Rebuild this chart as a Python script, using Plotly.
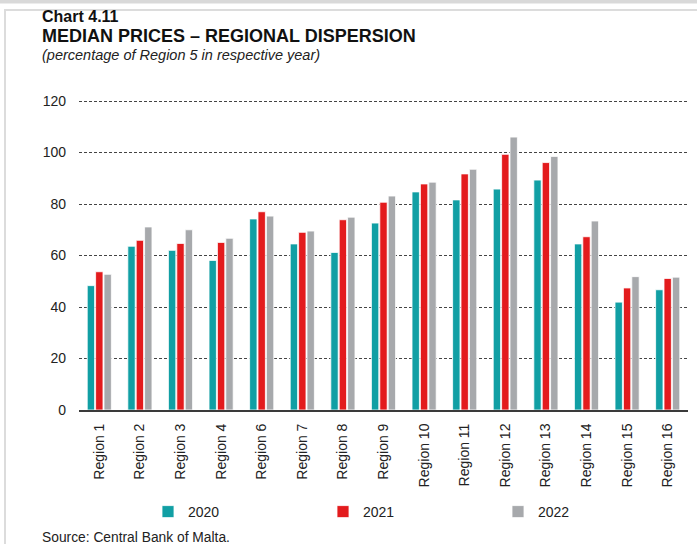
import plotly.graph_objects as go

regions = ["Region 1", "Region 2", "Region 3", "Region 4", "Region 6", "Region 7", "Region 8",
           "Region 9", "Region 10", "Region 11", "Region 12", "Region 13", "Region 14",
           "Region 15", "Region 16"]
v2020 = [48.3, 63.6, 62.0, 58.1, 74.2, 64.5, 61.2, 72.6, 84.7, 81.6, 85.8, 89.3, 64.5, 41.9, 46.7]
v2021 = [53.7, 65.9, 64.7, 65.1, 77.0, 69.0, 73.9, 80.7, 87.8, 91.7, 99.3, 96.1, 67.3, 47.4, 51.1]
v2022 = [52.7, 71.1, 70.0, 66.7, 75.3, 69.5, 74.9, 83.1, 88.5, 93.5, 106.0, 98.5, 73.4, 51.8, 51.6]
years = ["2020", "2021", "2022"]
colors = ["#119fa4", "#e31b1d", "#a7a9ac"]

W, H = 697, 544
L, R, T, B = 79, 9, 100, 134
PW, PH = W - L - R, H - T - B

def px(x):
    return (x - L) / PW

def py(y):
    return (H - B - y) / PH

fig = go.Figure()
for name, vals, col in zip(years, [v2020, v2021, v2022], colors):
    fig.add_trace(go.Bar(x=regions, y=vals, name=name,
                         marker=dict(color=col, line=dict(color="white", width=0.8))))

font = "Liberation Sans, Arial, sans-serif"
fig.update_layout(
    width=W, height=H,
    margin=dict(l=L, r=R, t=T, b=B),
    paper_bgcolor="white", plot_bgcolor="white",
    font=dict(family=font, size=14, color="#222"),
    barmode="group", bargap=0.38, bargroupgap=0.12,
    showlegend=True,
    legend=dict(orientation="h", xref="container", yref="container",
                x=148 / W, y=1 - 512 / H, xanchor="left", yanchor="middle",
                entrywidth=130, entrywidthmode="pixels",
                font=dict(size=14, color="#222"), itemwidth=30,
                bgcolor="rgba(0,0,0,0)"),
    xaxis=dict(showline=True, linecolor="#3a3a3a", linewidth=2, tickangle=-90,
               ticks="", ticklabelstandoff=6, showgrid=False,
               tickfont=dict(size=14, color="#222")),
    yaxis=dict(range=[0, 120.4], tickvals=[0, 20, 40, 60, 80, 100, 120],
               showgrid=True, gridcolor="#444",
               griddash="3px,2px", gridwidth=1, zeroline=False, ticks="",
               ticklabelstandoff=12, tickfont=dict(size=14, color="#222")),
)

anns = [
    ("Chart 4.11", 40, 17, dict(size=16, color="#111"), True, False),
    ("MEDIAN PRICES – REGIONAL DISPERSION", 40, 35.5, dict(size=18, color="#111"), True, False),
    ("(percentage of Region 5 in respective year)", 40, 55, dict(size=14.5, color="#222"), False, True),
    ("Source: Central Bank of Malta.", 40, 537, dict(size=13.8, color="#222"), False, False),
]
for text, x, y, f, bold, ital in anns:
    t = text
    if bold:
        t = "<b>" + t + "</b>"
    if ital:
        t = "<i>" + t + "</i>"
    fig.add_annotation(text=t, x=px(x), y=py(y), xref="paper", yref="paper",
                       xanchor="left", yanchor="middle", showarrow=False,
                       font=dict(family=font, **f))

# frame
fig.add_shape(type="rect", xref="paper", yref="paper", x0=px(0), x1=px(W), y0=py(0), y1=py(3.5),
              fillcolor="#d9d9d9", line=dict(width=0), layer="above")
fig.add_shape(type="rect", xref="paper", yref="paper", x0=px(5), x1=px(W + 2), y0=py(H + 2), y1=py(10),
              fillcolor="rgba(0,0,0,0)", line=dict(color="#dcdcdc", width=2), layer="above")

fig.write_html("out.html")
